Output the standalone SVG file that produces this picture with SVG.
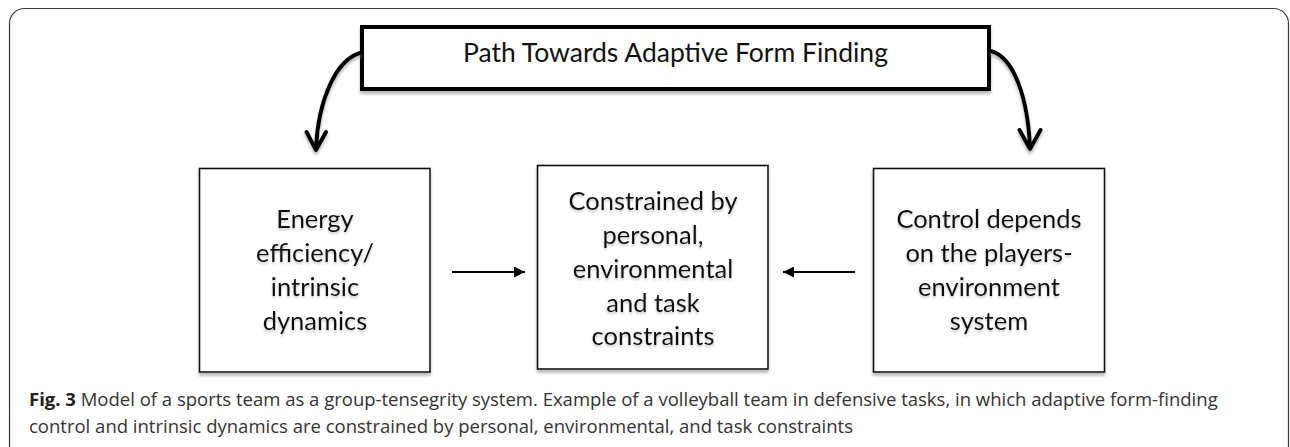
<svg xmlns="http://www.w3.org/2000/svg" width="1290" height="447" viewBox="0 0 1290 447">
  <style>
    .frame { fill: none; stroke: #3a3a3a; stroke-width: 1.2; }
    .box { fill: #ffffff; stroke: #111111; stroke-width: 1.6; filter: url(#shadow); }
    .title-box { fill: #ffffff; stroke: #000000; stroke-width: 4; filter: url(#shadow); }
    .label { font-family: Lato, "Liberation Sans", sans-serif; font-size: 25.5px; fill: #111111; text-anchor: middle; filter: url(#textShadow); }
    .title { font-family: Lato, "Liberation Sans", sans-serif; font-size: 26.5px; fill: #111111; text-anchor: middle; }
    .curve { fill: none; stroke: #000000; stroke-width: 4; stroke-linecap: round; stroke-linejoin: round; filter: url(#shadow); }
    .straight { fill: none; stroke: #000000; stroke-width: 2; }
    .caption { font-family: "Open Sans", "Noto Sans", sans-serif; font-size: 18.5px; fill: #333333; }
  </style>
  <defs>
    <filter id="shadow" x="-10%" y="-10%" width="120%" height="130%">
      <feDropShadow dx="0" dy="3" stdDeviation="1.5" flood-color="#808080" flood-opacity="0.55"/>
    </filter>
    <filter id="textShadow" x="-5%" y="-20%" width="110%" height="150%">
      <feDropShadow dx="0" dy="2" stdDeviation="1" flood-color="#808080" flood-opacity="0.45"/>
    </filter>
    <marker id="head" viewBox="0 0 10 10" refX="10" refY="5" markerWidth="6.5" markerHeight="5.5" markerUnits="strokeWidth" orient="auto">
      <path d="M0,0 L10,5 L0,10 Z" fill="#000000"/>
    </marker>
  </defs>

  <!-- outer figure frame (bottom edge runs off the canvas) -->
  <rect class="frame" x="9.5" y="8.5" width="1279" height="470" rx="15" ry="15"/>

  <!-- title node -->
  <g id="node-title">
    <rect class="title-box" x="362" y="27" width="627" height="62"/>
    <text class="title" x="675.5" y="62">Path Towards Adaptive Form Finding</text>
  </g>

  <!-- left node -->
  <g id="node-energy">
    <rect class="box" x="199.5" y="168.5" width="230.5" height="203.5"/>
    <text class="label" x="315" y="228">Energy</text>
    <text class="label" x="315" y="262">efficiency/</text>
    <text class="label" x="315" y="296">intrinsic</text>
    <text class="label" x="315" y="330">dynamics</text>
  </g>

  <!-- centre node -->
  <g id="node-constraints">
    <rect class="box" x="537.5" y="165.5" width="230.5" height="203.5"/>
    <text class="label" x="653" y="210">Constrained by</text>
    <text class="label" x="653" y="244">personal,</text>
    <text class="label" x="653" y="278">environmental</text>
    <text class="label" x="653" y="312">and task</text>
    <text class="label" x="653" y="345">constraints</text>
  </g>

  <!-- right node -->
  <g id="node-control">
    <rect class="box" x="873.5" y="168.5" width="231" height="203.5"/>
    <text class="label" x="989" y="228">Control depends</text>
    <text class="label" x="989" y="262">on the players-</text>
    <text class="label" x="989" y="296">environment</text>
    <text class="label" x="989" y="330">system</text>
  </g>

  <!-- connectors -->
  <g id="connectors">
    <path class="curve" d="M360,53 C336,60 318,100 316,149 M306.5,132 L316,150 L326,132"/>
    <path class="curve" d="M991,51 C1015,58 1028,100 1030,148 M1019.5,130 L1030,149 L1040.5,130"/>
    <line class="straight" x1="452" y1="272" x2="525" y2="272" marker-end="url(#head)"/>
    <line class="straight" x1="855" y1="272" x2="783" y2="272" marker-end="url(#head)"/>
  </g>

  <!-- caption -->
  <text class="caption" x="29" y="406"><tspan font-weight="bold" fill="#222222">Fig. 3</tspan> Model of a sports team as a group-tensegrity system. Example of a volleyball team in defensive tasks, in which adaptive form-finding</text>
  <text class="caption" x="29" y="433">control and intrinsic dynamics are constrained by personal, environmental, and task constraints</text>
</svg>
